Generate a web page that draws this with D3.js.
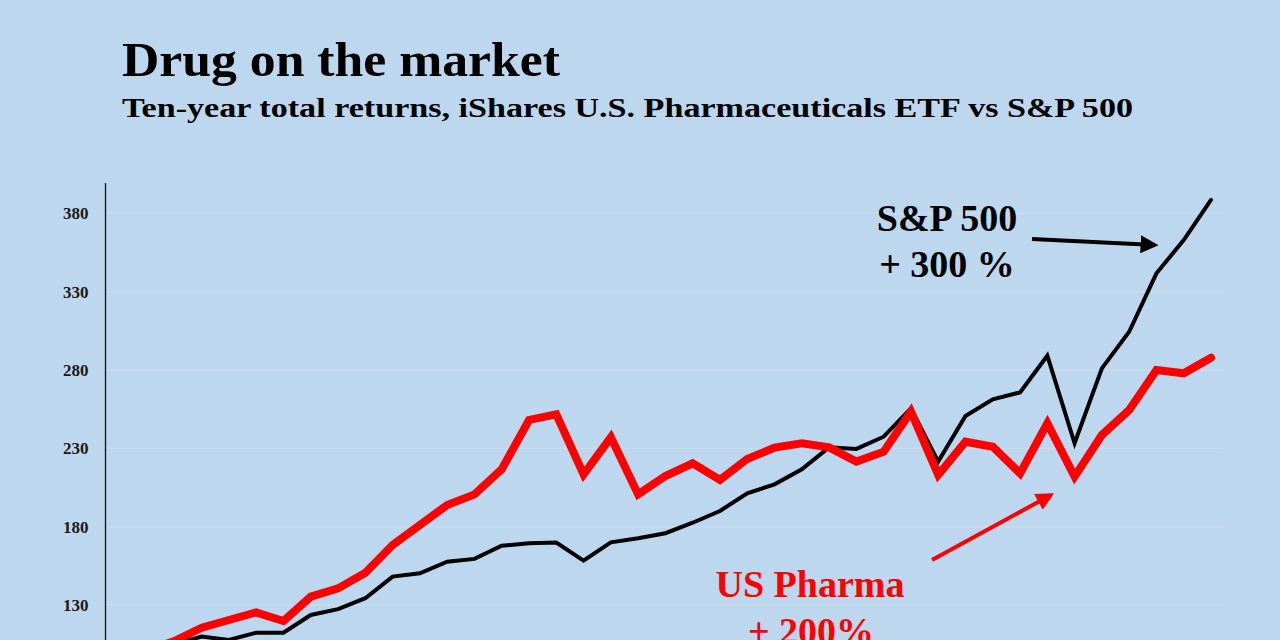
<!DOCTYPE html>
<html>
<head>
<meta charset="utf-8">
<script src="https://cdn.jsdelivr.net/npm/d3@7"></script>
<style>
  body { margin: 0; background: #bdd7ee; }
  svg { display: block; }
</style>
</head>
<body>
<script>
var w = 1280,
    h = 640;

// quarterly points over ten years, indexed 0..40
var quarters = d3.range(41);

var sp500 = [100, 102, 105, 109.8, 107.7, 112.3, 112.3, 123.6, 127.3, 134.3,
    148.1, 150.2, 157.6, 159.4, 167.8, 169.4, 169.8, 158.3, 170.0, 172.6,
    175.8, 182.5, 190.0, 201.3, 207.0, 216.6, 230.6, 229.6, 237.4, 255.5,
    221.5, 250.6, 261.3, 265.7, 289.1, 233.2, 281.0, 304.4, 341.7, 362.9, 388.5];

var pharma = [100, 101, 107, 115.5, 120.4, 125.3, 119.7, 135.3, 140.6, 150.6,
    168.3, 181.1, 193.8, 200.6, 216.6, 248.1, 251.7, 213.4, 237.0, 200.6,
    212.3, 220.4, 209.8, 223.2, 230.4, 233.2, 230.6, 221.5, 227.8, 253.4,
    213.0, 234.2, 231.0, 214.0, 246.0, 211.9, 238.5, 254.4, 280.0, 277.9, 287.8];

var yTicks = [130, 180, 230, 280, 330, 380];

var svg = d3.select("body")
    .append("svg")
    .attr("width", w)
    .attr("height", h)
    .style("background", "#bdd7ee");

svg.append("defs").selectAll("marker")
    .data([["arrowBlack", "#000"], ["arrowRed", "#ff0000"]])
    .enter()
    .append("marker")
    .attr("id", function(d) { return d[0]; })
    .attr("viewBox", "0 0 10 10")
    .attr("refX", 8)
    .attr("refY", 5)
    .attr("markerWidth", 4.5)
    .attr("markerHeight", 4.5)
    .attr("orient", "auto")
    .append("path")
    .attr("d", "M0,0 L10,5 L0,10 z")
    .attr("fill", function(d) { return d[1]; });

var x = d3.scaleLinear().domain([0, 40]).range([119.8, 1211]);
var y = d3.scaleLinear().domain([80, 380]).range([683.3, 213.3]);

// gridlines, very faint
svg.append("g")
    .selectAll("line")
    .data(yTicks)
    .enter()
    .append("line")
    .attr("x1", 107)
    .attr("x2", 1223)
    .attr("y1", function(d) { return y(d); })
    .attr("y2", function(d) { return y(d); })
    .attr("stroke", "#cadcec")
    .attr("stroke-width", 1.5);

// y axis
var yAxis = d3.axisLeft(y)
    .tickValues(yTicks)
    .tickSize(0)
    .tickPadding(17);

var ax = svg.append("g")
    .attr("transform", "translate(105.5,0)")
    .call(yAxis);
ax.select(".domain").remove();
ax.selectAll("text")
    .style("font-family", "'Liberation Serif', serif")
    .style("font-weight", "bold")
    .style("font-size", "17px")
    .attr("fill", "#1a1a1a");

svg.append("line")
    .attr("x1", 105.5).attr("x2", 105.5)
    .attr("y1", 183).attr("y2", h)
    .attr("stroke", "#111")
    .attr("stroke-width", 1.3);

var line = function(vals) {
    return d3.line()
        .x(function(d) { return x(d); })
        .y(function(d) { return y(vals[d]); })(quarters);
};

svg.append("path")
    .attr("d", line(sp500))
    .attr("fill", "none")
    .attr("stroke", "#000")
    .attr("stroke-width", 4)
    .attr("stroke-linecap", "round");

svg.append("path")
    .attr("d", line(pharma))
    .attr("fill", "none")
    .attr("stroke", "#ff0000")
    .attr("stroke-width", 8)
    .attr("stroke-linecap", "round");

// titles
svg.append("text")
    .attr("x", 122)
    .attr("y", 76)
    .attr("textLength", 438)
    .attr("lengthAdjust", "spacingAndGlyphs")
    .style("font-family", "'Liberation Serif', serif")
    .style("font-weight", "bold")
    .style("font-size", "48px")
    .text("Drug on the market");

svg.append("text")
    .attr("x", 122)
    .attr("y", 117)
    .attr("textLength", 1011)
    .attr("lengthAdjust", "spacingAndGlyphs")
    .style("font-family", "'Liberation Serif', serif")
    .style("font-weight", "bold")
    .style("font-size", "28px")
    .text("Ten-year total returns, iShares U.S. Pharmaceuticals ETF vs S&P 500");

// annotations (the last line is cut by the frame, as in the original)
var notes = [
    {t: "S&P 500", x: 947, y: 231, c: "#000"},
    {t: "+ 300 %", x: 947, y: 277, c: "#000"},
    {t: "US Pharma", x: 810, y: 597, c: "#ff0000"},
    {t: "+ 200%", x: 811, y: 644, c: "#ff0000"}
];

svg.selectAll(".note")
    .data(notes)
    .enter()
    .append("text")
    .attr("class", "note")
    .attr("x", function(d) { return d.x; })
    .attr("y", function(d) { return d.y; })
    .attr("text-anchor", "middle")
    .attr("fill", function(d) { return d.c; })
    .style("font-family", "'Liberation Serif', serif")
    .style("font-weight", "bold")
    .style("font-size", "38px")
    .text(function(d) { return d.t; });

svg.append("line")
    .attr("x1", 1032).attr("y1", 239)
    .attr("x2", 1155).attr("y2", 245)
    .attr("stroke", "#000")
    .attr("stroke-width", 4)
    .attr("marker-end", "url(#arrowBlack)");

svg.append("line")
    .attr("x1", 932).attr("y1", 560)
    .attr("x2", 1051).attr("y2", 495)
    .attr("stroke", "#ff0000")
    .attr("stroke-width", 4)
    .attr("marker-end", "url(#arrowRed)");
</script>
</body>
</html>
